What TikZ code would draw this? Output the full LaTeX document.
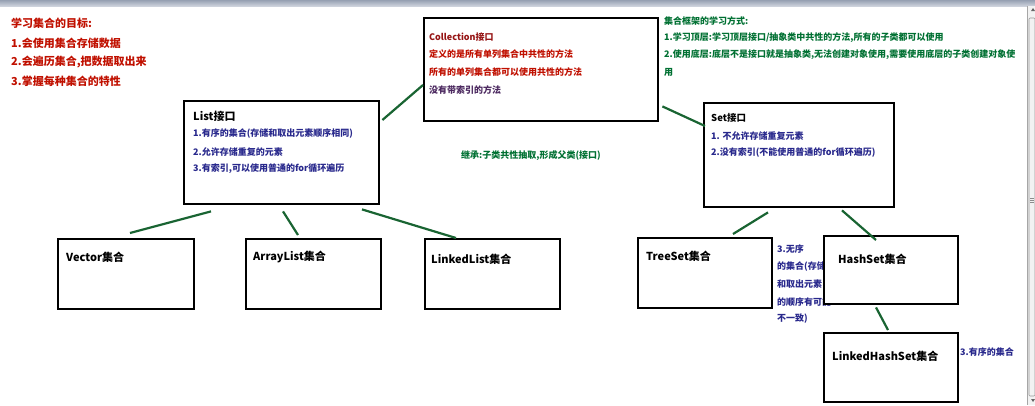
\documentclass[tikz,border=0pt]{standalone}
\usepackage{fontspec}
\setmainfont{Noto Sans CJK SC}
\usetikzlibrary{calc}
\definecolor{tred}{RGB}{192,16,0}
\definecolor{cdred}{RGB}{150,20,20}
\definecolor{cpurp}{RGB}{75,40,95}
\definecolor{tblue}{RGB}{40,40,140}
\definecolor{tgreen}{RGB}{0,112,50}
\definecolor{lgreen}{RGB}{25,100,50}
\tikzset{
  box/.style={draw=black, fill=white, line width=2.4pt, anchor=north west, inner sep=0pt},
  txt/.style={anchor=west, inner sep=0pt, font=\bfseries\fontsize{9}{11}\selectfont},
  bigtxt/.style={anchor=west, inner sep=0pt, font=\bfseries\fontsize{11}{13}\selectfont, text=black},
  redtxt/.style={anchor=west, inner sep=0pt, font=\bfseries\fontsize{11}{13}\selectfont, text=tred},
  conn/.style={draw=lgreen, line width=2.2pt}
}
\begin{document}
\begin{tikzpicture}[x=1pt,y=-1pt]
\useasboundingbox (0,0) rectangle (1035,405);
% window chrome
\shade[top color={rgb,255:red,150;green,160;blue,178}, bottom color={rgb,255:red,205;green,210;blue,220}] (0,0) rectangle (1035,6);
\fill[black!5] (1027,6) rectangle (1035,405);
\draw[black!35, line width=0.6pt] (1027.5,6) -- (1027.5,405);
\draw[black!40, line width=0.6pt, rounded corners=1pt] (1029,18) rectangle (1035,396);
\draw[black!45, line width=0.5pt] (1030,198) -- (1034,198) (1030,200) -- (1034,200) (1030,202) -- (1034,202);
\fill[black!60] (1031,11) -- (1033,8) -- (1035,11) -- cycle;
\fill[black!60] (1031,399) -- (1033,402) -- (1035,399) -- cycle;

% goals
\node[redtxt] (g0) at (11,23) {学习集合的目标:};
\node[redtxt] (g1) at (11,43) {1.会使用集合存储数据};
\node[redtxt] (g2) at (11,62) {2.会遍历集合,把数据取出来};
\node[redtxt] (g3) at (11,81) {3.掌握每种集合的特性};

% framework learning notes
\node[txt, text=tgreen] (f0) at (664,21) {集合框架的学习方式:};
\node[txt, text=tgreen] (f1) at (664,38) {1.学习顶层:学习顶层接口/抽象类中共性的方法,所有的子类都可以使用};
\node[txt, text=tgreen] (f2) at (664,55) {2.使用底层:底层不是接口就是抽象类,无法创建对象使用,需要使用底层的子类创建对象使};
\node[txt, text=tgreen] (f3) at (664,72) {用};

% inheritance note
\node[txt, text=tgreen] (inh) at (461,156) {继承:子类共性抽取,形成父类(接口)};

% unordered note (partly hidden by HashSet box)
\node[txt, text=tblue] (n1) at (777,249) {3.无序};
\node[txt, text=tblue] (n2) at (777,267) {的集合(存储};
\node[txt, text=tblue] (n3) at (777,284) {和取出元素};
\node[txt, text=tblue] (n4) at (777,302) {的顺序有可能};
\node[txt, text=tblue] (n5) at (777,319) {不一致)};
\node[txt, text=tblue] (n6) at (960,352) {3.有序的集合};

% boxes
\node[box, minimum width=234pt, minimum height=103pt] (coll) at (423,17) {};
\node[box, minimum width=195pt, minimum height=103pt] (list) at (183,100) {};
\node[box, minimum width=190pt, minimum height=104pt] (set) at (703,102) {};
\node[box, minimum width=136pt, minimum height=70pt] (vec) at (57,238) {};
\node[box, minimum width=135pt, minimum height=70pt] (al) at (245,238) {};
\node[box, minimum width=135pt, minimum height=70pt] (ll) at (424,238) {};
\node[box, minimum width=134pt, minimum height=70pt] (ts) at (637,237) {};
\node[box, minimum width=134pt, minimum height=68pt] (hs) at (823,235) {};
\node[box, minimum width=134pt, minimum height=69pt] (lhs) at (823,332) {};

% Collection text
\node[txt, text=cdred] (c0) at (429,37) {Collection接口};
\node[txt, text=tred] (c1) at (429,54) {定义的是所有单列集合中共性的方法};
\node[txt, text=tred] (c2) at (429,72) {所有的单列集合都可以使用共性的方法};
\node[txt, text=cpurp] (c3) at (429,90) {没有带索引的方法};

% List text
\node[bigtxt] (l0) at (193,116) {List接口};
\node[txt, text=tblue] (l1) at (193,134) {1.有序的集合(存储和取出元素顺序相同)};
\node[txt, text=tblue] (l2) at (193,152) {2.允许存储重复的元素};
\node[txt, text=tblue] (l3) at (193,169) {3.有索引,可以使用普通的for循环遍历};

% Set text
\node[txt, text=black, font=\bfseries\fontsize{9.5}{11}\selectfont] (s0) at (711,118) {Set接口};
\node[txt, text=tblue] (s1) at (711,136) {1. 不允许存储重复元素};
\node[txt, text=tblue] (s2) at (711,153) {2.没有索引(不能使用普通的for循环遍历)};

% child titles
\node[bigtxt] (tv) at (66,257) {Vector集合};
\node[bigtxt] (ta) at (253,257) {ArrayList集合};
\node[bigtxt] (tl) at (431,259) {LinkedList集合};
\node[bigtxt] (tt) at (646,256) {TreeSet集合};
\node[bigtxt] (th) at (838,259) {HashSet集合};
\node[bigtxt] (tlh) at (832,356) {LinkedHashSet集合};

% connectors
\draw[conn] ($(list.north east)+(2,20)$) -- ($(coll.north west)+(0,68)$);
\draw[conn] ($(coll.south east)+(3,-16)$) -- ($(set.north west)+(2,24)$);
\draw[conn] ($(list.south west)+(28,6)$) -- ($(vec.north west)+(73,-5)$);
\draw[conn] ($(list.south west)+(100,6)$) -- ($(al.north west)+(53,-3)$);
\draw[conn] ($(list.south west)+(179,4)$) -- ($(ll.north west)+(32,0)$);
\draw[conn] ($(set.south west)+(65,4)$) -- ($(ts.north west)+(96,-3)$);
\draw[conn] ($(set.south west)+(139,2)$) -- ($(hs.north west)+(53,5)$);
\draw[conn] ($(hs.south west)+(53,2)$) -- ($(lhs.north west)+(65,-2)$);
\end{tikzpicture}
\end{document}
